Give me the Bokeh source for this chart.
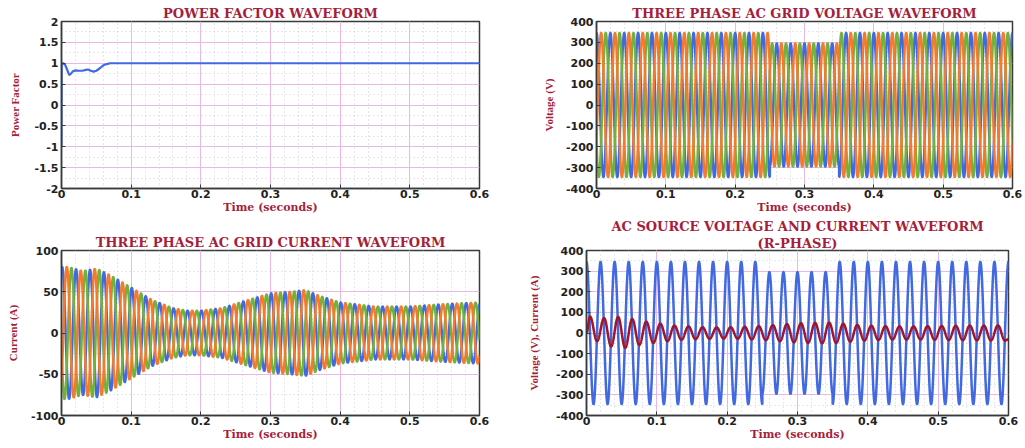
import numpy as np
from bokeh.plotting import figure
from bokeh.layouts import column, row
from bokeh.models import FixedTicker, CustomJSTickFormatter, Title
from bokeh.embed import file_html
from bokeh.resources import INLINE

# ---------------- data ----------------
FREQ_HZ = 50.0
T_END = 0.6

# Power factor
pf_time = [0.0, 0.0003, 0.002, 0.005, 0.008, 0.011, 0.013, 0.016, 0.02, 0.025, 0.03,
           0.035, 0.038, 0.042, 0.046, 0.05, 0.055, 0.06, 0.065, 0.07, 0.08, 0.6]
pf_value = [-1.0, 1.0, 1.0, 0.97, 0.85, 0.72, 0.74, 0.8, 0.83, 0.82, 0.82,
            0.84, 0.85, 0.82, 0.8, 0.82, 0.88, 0.95, 0.98, 1.0, 1.0, 1.0]

# Grid voltage amplitude segments (sag between 0.25 s and 0.35 s)
volt_seg_start = [0.0, 0.25, 0.35]
volt_seg_amp = [345.0, 295.0, 345.0]

# Grid current envelope (A)
cur_env_time = [0.0, 0.01, 0.03, 0.05, 0.07, 0.1, 0.13, 0.16, 0.18, 0.2, 0.23,
                0.26, 0.3, 0.33, 0.35, 0.37, 0.4, 0.45, 0.5, 0.55, 0.6]
cur_env_amp = [80, 80, 75, 78, 70, 55, 40, 30, 27, 27, 30,
               38, 48, 50, 52, 45, 37, 32, 32, 35, 37]

# R-phase current extremes at each half cycle (A)
r_cur_peaks = [80, -40, 72, -65, 78, -72, 68, -58, 55, -48,
               45, -40, 36, -33, 32, -30, 28, -28, 27, -27,
               28, -28, 30, -31, 33, -35, 38, -40, 43, -45,
               47, -48, 49, -50, 50, -48, 45, -42, 39, -37,
               35, -34, 33, -32, 32, -32, 32, -32, 33, -33,
               34, -34, 35, -35, 36, -36, 36, -36, 37, -37]

x_ticks = [0, 0.1, 0.2, 0.3, 0.4, 0.5, 0.6]
pf_ticks = [-2, -1.5, -1, -0.5, 0, 0.5, 1, 1.5, 2]
volt_ticks = [-400, -300, -200, -100, 0, 100, 200, 300, 400]
cur_ticks = [-100, -50, 0, 50, 100]

# ---------------- styling ----------------
C_TITLE = "#a51e3c"
C_BLUE = "#4169e1"
C_ORANGE = "#f47a2e"
C_GREEN = "#74b03c"
C_RED = "#a0142c"

t = np.linspace(0, T_END, 6001)
w = 2 * np.pi * FREQ_HZ

seg_idx = np.searchsorted(np.array(volt_seg_start), t, side="right") - 1
v_amp = np.array(volt_seg_amp)[seg_idx]
va = v_amp * np.cos(w * t)
vb = v_amp * np.cos(w * t - 2 * np.pi / 3)
vc = v_amp * np.cos(w * t + 2 * np.pi / 3)

env = np.interp(t, cur_env_time, cur_env_amp)
ia = env * np.cos(w * t - 0.3)
ib = env * np.cos(w * t - 0.3 - 2 * np.pi / 3)
ic = env * np.cos(w * t - 0.3 + 2 * np.pi / 3)

# R-phase current through its half-cycle extremes
half = 0.5 / FREQ_HZ
pk_t = np.array([0.0] + [half / 2 + half * k for k in range(len(r_cur_peaks))] + [T_END])
pk_v = np.array([0.0] + r_cur_peaks + [-30.0])
k = np.clip(np.searchsorted(pk_t, t, side="right") - 1, 0, len(pk_t) - 2)
s = (t - pk_t[k]) / (pk_t[k + 1] - pk_t[k])
ir = pk_v[k] + (pk_v[k + 1] - pk_v[k]) * (1 - np.cos(np.pi * s)) / 2

fmt_code = "return String(Math.round(tick*1000)/1000);"


def style_title(ti):
    ti.align = "center"
    ti.text_font = "DejaVu Serif"
    ti.text_font_style = "bold"
    ti.text_font_size = "13px"
    ti.text_color = C_TITLE
    ti.standoff = 2
    ti.offset = 0


def make_fig(title, ylabel, yr, yticks, yminor, w_, h_, bl, br, bt, bb, ylab_standoff):
    p = figure(width=w_, height=h_, x_range=(0, T_END), y_range=yr,
               output_backend="svg", toolbar_location=None,
               min_border_left=bl, min_border_right=br,
               min_border_top=bt, min_border_bottom=bb)
    p.title.text = title
    style_title(p.title)
    p.outline_line_color = "#3a3a3a"
    p.outline_line_width = 1.5
    p.background_fill_color = "white"
    p.border_fill_color = "white"

    p.xaxis.ticker = FixedTicker(ticks=x_ticks, minor_ticks=[i * 0.02 for i in range(31)])
    p.yaxis.ticker = FixedTicker(ticks=yticks, minor_ticks=yminor)
    for ax in (p.xaxis[0], p.yaxis[0]):
        ax.formatter = CustomJSTickFormatter(code=fmt_code)
        ax.major_label_text_font = "DejaVu Sans"
        ax.major_label_text_font_style = "bold"
        ax.major_label_text_font_size = "11px"
        ax.major_label_text_color = "#222222"
        ax.axis_line_color = "#3a3a3a"
        ax.axis_line_width = 1.5
        ax.major_tick_in = 4
        ax.major_tick_out = 0
        ax.minor_tick_in = 0
        ax.minor_tick_out = 0
        ax.major_tick_line_color = "#3a3a3a"
        ax.axis_label_text_color = C_TITLE
        ax.axis_label_text_font_style = "bold"
    p.xaxis.axis_label = "Time (seconds)"
    p.xaxis.axis_label_text_font = "DejaVu Serif"
    p.xaxis.axis_label_text_font_size = "11px"
    p.xaxis.axis_label_standoff = 0
    p.xaxis.major_label_standoff = 1
    p.yaxis.axis_label = ylabel
    p.yaxis.axis_label_text_font = "Liberation Serif"
    p.yaxis.axis_label_text_font_size = "11px"
    p.yaxis.axis_label_standoff = ylab_standoff
    p.yaxis.major_label_standoff = 3

    for g in (p.xgrid[0], p.ygrid[0]):
        g.grid_line_color = "#eab8e4"
        g.grid_line_width = 1
        g.grid_line_alpha = 1.0
        g.minor_grid_line_color = "#cfcfcf"
        g.minor_grid_line_dash = "1 3"
        g.minor_grid_line_width = 1
    return p


TOP_H = 216
BOT_H = 231

p1 = make_fig("POWER FACTOR WAVEFORM", "Power Factor", (-2, 2), pf_ticks,
              [i * 0.25 - 2 for i in range(17)], 510, TOP_H, 61, 31, 19, 28, 10)
p1.line(pf_time, pf_value, line_color=C_BLUE, line_width=2.2)

p2 = make_fig("THREE PHASE AC GRID VOLTAGE WAVEFORM", "Voltage (V)", (-400, 400), volt_ticks,
              [i * 50 - 400 for i in range(17)], 514, TOP_H, 86, 12, 21, 23, 8)
p2.line(t, va, line_color=C_BLUE, line_width=2.5)
p2.line(t, vc, line_color=C_GREEN, line_width=2.5)
p2.line(t, vb, line_color=C_ORANGE, line_width=2.5)

p3 = make_fig("THREE PHASE AC GRID CURRENT WAVEFORM", "Current (A)", (-100, 100), cur_ticks,
              [i * 25 - 100 for i in range(9)], 510, BOT_H, 61, 31, 31, 32, 9)
p3.line(t, ia, line_color=C_BLUE, line_width=2.5)
p3.line(t, ic, line_color=C_GREEN, line_width=2.5)
p3.line(t, ib, line_color=C_ORANGE, line_width=2.5)

p4 = make_fig("AC SOURCE VOLTAGE AND CURRENT WAVEFORM", "Voltage (V), Current (A)",
              (-400, 400), volt_ticks, [i * 50 - 400 for i in range(17)],
              514, BOT_H, 76, 16, 33, 28, 13)
p4.title.standoff = 0
sub4 = Title(text="(R-PHASE)")
style_title(sub4)
sub4.standoff = 0
p4.add_layout(sub4, "above")
p4.line(t, va, line_color=C_BLUE, line_width=2.5)
p4.line(t, ir, line_color=C_RED, line_width=2.5)

layout = column(row(p1, p2), row(p3, p4))
open("out.html", "w").write(file_html(layout, INLINE))
